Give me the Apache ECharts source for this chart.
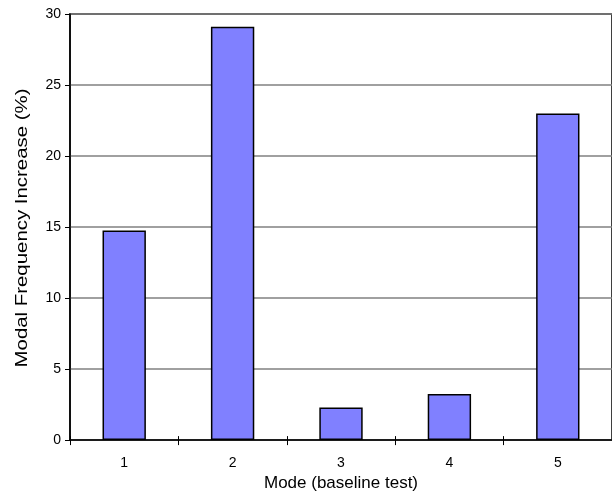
<!DOCTYPE html>
<html>
<head>
<meta charset="utf-8">
<script src="https://cdn.jsdelivr.net/npm/echarts@6/dist/echarts.min.js"></script>
<style>html,body{margin:0;padding:0;background:#fff}#c{width:612px;height:497px}</style>
</head>
<body>
<div id="c"></div>
<script>
var categories = ['1', '2', '3', '4', '5'];
var values = [14.75, 29.1, 2.3, 3.25, 23.0];
var yTicks = [0, 5, 10, 15, 20, 25, 30];
var xTitle = 'Mode (baseline test)';
var yTitle = 'Modal Frequency Increase (%)';

var chart = echarts.init(document.getElementById('c'));
var font = 'Liberation Sans, Arial, sans-serif';
chart.setOption({
  animation: false,
  grid: { left: 70, top: 14, width: 545, height: 427, show: true, borderColor: '#000', borderWidth: 1.5, backgroundColor: 'transparent' },
  xAxis: [{
    type: 'category', data: categories, boundaryGap: true,
    axisLine: { lineStyle: { color: '#000', width: 1.5 } },
    axisTick: { show: true, alignWithLabel: false, length: 5, lineStyle: { color: '#000' } },
    axisLabel: { color: '#000', fontFamily: font, fontSize: 14, margin: 16 },
    name: xTitle, nameLocation: 'middle', nameGap: 33,
    nameTextStyle: { color: '#000', fontFamily: font, fontSize: 17 }
  }, {
    type: 'category', data: categories, boundaryGap: true, position: 'bottom',
    axisLine: { show: false },
    axisTick: { show: true, inside: true, length: 4, lineStyle: { color: '#000' } },
    axisLabel: { show: false }
  }],
  yAxis: {
    type: 'value', min: yTicks[0], max: yTicks[yTicks.length - 1], interval: 5,
    axisLine: { show: true, lineStyle: { color: '#000', width: 1.5 } },
    axisTick: { show: true, length: 5, lineStyle: { color: '#000' } },
    axisLabel: { color: '#000', fontFamily: font, fontSize: 14, margin: 9 },
    splitLine: { show: true, lineStyle: { color: '#808080', width: 1.5 } }
  },
  graphic: [{
    type: 'text', x: 22, y: 228, rotation: Math.PI / 2, scaleX: 1.2, scaleY: 1,
    style: { text: yTitle, fill: '#000', font: '17px Liberation Sans, Arial, sans-serif', textAlign: 'center', textVerticalAlign: 'middle' }
  }],
  series: [{
    type: 'bar', data: values, barWidth: '40%', xAxisIndex: 0,
    itemStyle: { color: '#8080FF', borderColor: '#000', borderWidth: 1.5 }
  }]
});
</script>
</body>
</html>
